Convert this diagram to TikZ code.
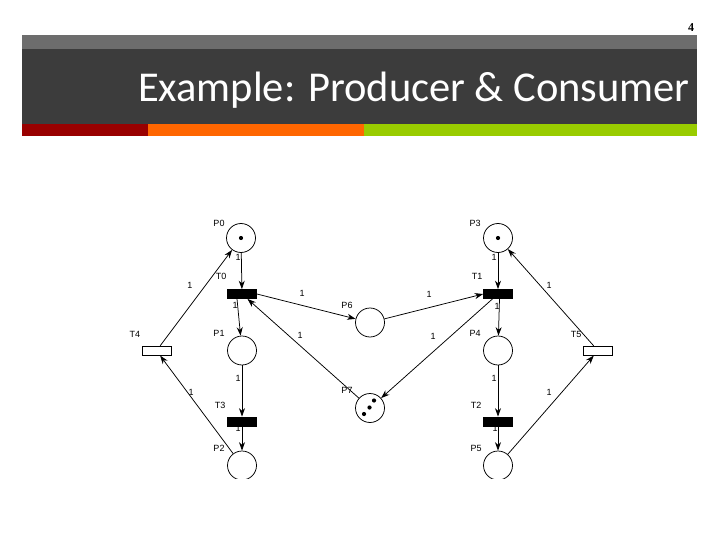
\documentclass[tikz,border=0pt]{standalone}
\usepackage{fontspec}
\setmainfont{Liberation Sans}
\newfontfamily\titlefont{Carlito}
\newfontfamily\numfont{Liberation Serif}
\usetikzlibrary{arrows.meta}

\definecolor{barlight}{HTML}{6D6D6D}
\definecolor{bardark}{HTML}{3C3C3C}
\definecolor{barred}{HTML}{990000}
\definecolor{barorange}{HTML}{FF6600}
\definecolor{bargreen}{HTML}{99CC00}

\begin{document}
\begin{tikzpicture}[>={Stealth[length=8.5pt, width=6pt]}, x=1pt, y=-1pt,
    place/.style={circle, draw, line width=0.75pt, minimum size=29pt, inner sep=0pt},
    trans/.style={rectangle, draw, line width=0.75pt, minimum width=29pt,
                  minimum height=9pt, inner sep=0pt},
    arc/.style={->, line width=0.75pt},
    lbl/.style={font=\fontsize{9}{10}\selectfont, inner sep=0pt}]

    \def\tok{2.1}

    \useasboundingbox (0,0) rectangle (720,540);

    % ── Slide header ─────────────────────────────────────────────────────────
    \fill[barlight]  (22,35)  rectangle (697,49);
    \fill[bardark]   (22,49)  rectangle (697,124);
    \fill[barred]    (22,124) rectangle (148,136);
    \fill[barorange] (148,124) rectangle (364,136);
    \fill[bargreen]  (364,124) rectangle (697,136);

    \node[anchor=base east, inner sep=0pt, text=white,
          font=\titlefont\fontsize{42.5}{46}\selectfont] (title) at (690,102)
        {Example: Producer \& Consumer};
    \node[font=\numfont\bfseries\fontsize{12}{14}\selectfont, inner sep=0pt]
        (pagenum) at (691,28) {4};

    \begin{scope}
    \clip (0,0) rectangle (720,478);

    % ── Arc weights (first, so the bars hide what they cover) ────────────────
    \foreach \x/\y [count=\i] in {238/257, 190/285, 302/293, 235/305, 300/335,
                                  238/378, 238/428, 191/392, 494/257, 549/285,
                                  429/294, 497/306, 433/336, 494/378, 495/428,
                                  549/392}
        \node[lbl] (w\i) at (\x,\y) {1};

    % ── Places ───────────────────────────────────────────────────────────────
    \node[place] (p0) at (241,238)   {};
    \node[place] (p1) at (242,350.5) {};
    \node[place] (p2) at (242,465.5) {};
    \node[place] (p3) at (498,238)   {};
    \node[place] (p4) at (498,350.5) {};
    \node[place] (p5) at (498,465.5) {};
    \node[place] (p6) at (370,322.5) {};
    \node[place] (p7) at (370,408)   {};

    % ── Transitions ──────────────────────────────────────────────────────────
    \node[trans, fill=black] (t0) at (242,294)   {};
    \node[trans, fill=black] (t1) at (498,294)   {};
    \node[trans, fill=black] (t2) at (498,421.5) {};
    \node[trans, fill=black] (t3) at (242,421.5) {};
    \node[trans, fill=white] (t4) at (156.5,350.7) {};
    \node[trans, fill=white] (t5) at (598,350.7)   {};

    % ── Names ────────────────────────────────────────────────────────────────
    \foreach \n/\x/\y in {P0/219/223, T0/221/276, P1/219/333, T3/220/405,
                          P2/219/448, P6/347/305.5, P7/347/390, T4/135/334,
                          P3/475/223, T1/477/276, P4/475/333, T2/476/405,
                          P5/476/448, T5/576/334}
        \node[lbl] (name\n) at (\x,\y) {\n};

    % ── Tokens ───────────────────────────────────────────────────────────────
    \fill (p0) circle (\tok);
    \fill (p3) circle (\tok);
    \foreach \dx/\dy in {4/-7.5, -0.5/-0.5, -6/6}
        \fill ([shift={(\dx,\dy)}]p7.center) circle (\tok);

    % ── Producer side ────────────────────────────────────────────────────────
    \draw[arc] (p0) -- (t0);
    \draw[arc] ([xshift=-5pt]t0.south) -- (p1);
    \draw[arc] (p1) -- (t3);
    \draw[arc] (t3) -- (p2);
    \draw[arc] (p2) -- (t4);
    \draw[arc] (t4) -- (p0);

    % ── Consumer side ────────────────────────────────────────────────────────
    \draw[arc] (p3) -- (t1);
    \draw[arc] ([xshift=1.5pt]t1.south) -- (p4);
    \draw[arc] (p4) -- (t2);
    \draw[arc] (t2) -- (p5);
    \draw[arc] (p5) -- (t5);
    \draw[arc] (t5) -- (p3);

    % ── Buffer and free slots ────────────────────────────────────────────────
    \draw[arc] (t0.east) -- (p6);
    \draw[arc] (p6) -- (t1.west);
    \draw[arc] (t1) -- (p7);
    \draw[arc] (p7) -- (t0);

    \end{scope}

\end{tikzpicture}
\end{document}
